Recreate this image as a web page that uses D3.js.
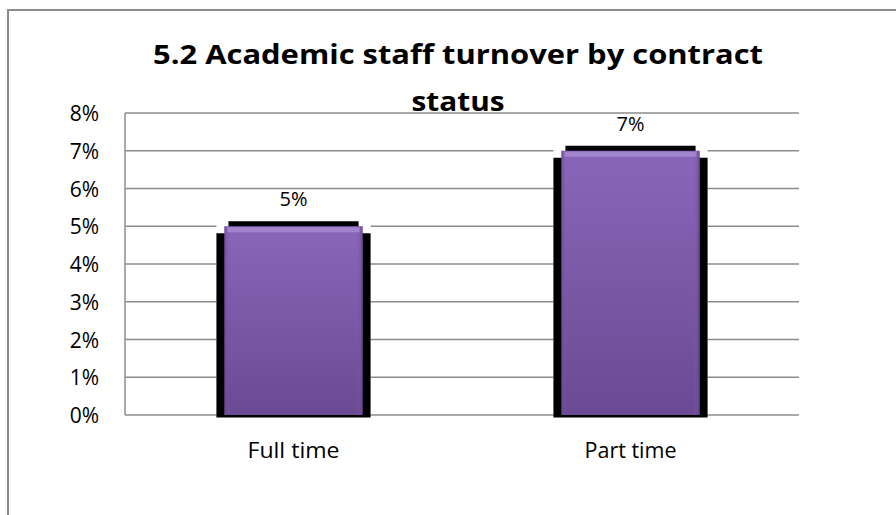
<!DOCTYPE html>
<html>
<head>
<meta charset="utf-8">
<script src="https://cdn.jsdelivr.net/npm/d3@7"></script>
<style>
  html, body { margin: 0; padding: 0; background: #fff; }
  svg { display: block; }
  text { font-family: "Open Sans", sans-serif; fill: #000; }
</style>
</head>
<body>
<svg id="chart" width="896" height="515"></svg>
<script>
// Chart data
const categories = ["Full time", "Part time"];
const values = [0.05, 0.07];
const valueLabels = ["5%", "7%"];
const yTicks = [0, 0.01, 0.02, 0.03, 0.04, 0.05, 0.06, 0.07, 0.08];
const titleLines = ["5.2 Academic staff turnover by contract", "status"];

const svg = d3.select("#chart");
const plot = { left: 125, right: 799, top: 113, bottom: 415 };
const gridColor = "#8c8c8c";

// Outer chart frame (runs past the right and bottom edges)
svg.append("rect")
  .attr("x", 8).attr("y", 10)
  .attr("width", 920).attr("height", 540)
  .attr("fill", "#fff")
  .attr("stroke", gridColor).attr("stroke-width", 2);

const x = d3.scaleBand().domain(categories).range([plot.left, plot.right]).padding(0);
const y = d3.scaleLinear().domain([0, 0.08]).range([plot.bottom, plot.top]);

// Gridlines
svg.append("g").selectAll("line").data(yTicks).join("line")
  .attr("x1", plot.left).attr("x2", plot.right)
  .attr("y1", d => y(d)).attr("y2", d => y(d))
  .attr("stroke", gridColor).attr("stroke-width", 1.5);

// Left plot edge
svg.append("line")
  .attr("x1", plot.left).attr("x2", plot.left)
  .attr("y1", plot.top).attr("y2", plot.bottom)
  .attr("stroke", gridColor).attr("stroke-width", 1.5);

// Y axis labels
const yAxis = d3.axisLeft(y).tickValues(yTicks).tickFormat(d3.format(".0%")).tickSize(0).tickPadding(0);
const yg = svg.append("g").attr("transform", `translate(99,0)`).call(yAxis);
yg.select(".domain").remove();
yg.selectAll("text")
  .attr("font-family", "Open Sans, sans-serif")
  .attr("font-size", 21)
  .attr("fill", "#000")
  .attr("dy", "0.36em");

// Bar gradients
const defs = svg.append("defs");
const grad = defs.append("linearGradient").attr("id", "barFill")
  .attr("x1", 0).attr("y1", 0).attr("x2", 0).attr("y2", 1);
grad.append("stop").attr("offset", "0%").attr("stop-color", "#8a66ba");
grad.append("stop").attr("offset", "100%").attr("stop-color", "#6a4a93");

const side = defs.append("linearGradient").attr("id", "barSide")
  .attr("x1", 0).attr("y1", 0).attr("x2", 1).attr("y2", 0);
side.append("stop").attr("offset", "0%").attr("stop-color", "#5e3f86").attr("stop-opacity", 0.6);
side.append("stop").attr("offset", "4%").attr("stop-color", "#8a66ba").attr("stop-opacity", 0);
side.append("stop").attr("offset", "95%").attr("stop-color", "#8a66ba").attr("stop-opacity", 0);
side.append("stop").attr("offset", "100%").attr("stop-color", "#5e3f86").attr("stop-opacity", 0.7);

const barW = x.bandwidth() * 0.41;
const bars = svg.append("g").selectAll("g")
  .data(categories.map((c, i) => ({ c, v: values[i], label: valueLabels[i] })))
  .join("g");

const cx = d => x(d.c) + x.bandwidth() / 2;

// clear area around each bar
bars.append("rect")
  .attr("x", d => cx(d) - barW / 2 - 8)
  .attr("y", d => y(d.v) - 5)
  .attr("width", barW + 16)
  .attr("height", d => plot.bottom - y(d.v) + 5)
  .attr("fill", "#fff");

// dark shadow behind the bar
bars.append("rect")
  .attr("x", d => cx(d) - barW / 2 - 8)
  .attr("y", d => y(d.v) + 7)
  .attr("width", barW + 16)
  .attr("height", d => plot.bottom - y(d.v) - 7 + 2.5)
  .attr("fill", "#000");
bars.append("rect")
  .attr("x", d => cx(d) - barW / 2 + 4)
  .attr("y", d => y(d.v) - 5)
  .attr("width", barW - 8)
  .attr("height", 6)
  .attr("fill", "#000");

// bar body
bars.append("rect")
  .attr("x", d => cx(d) - barW / 2)
  .attr("y", d => y(d.v))
  .attr("width", barW)
  .attr("height", d => plot.bottom - y(d.v))
  .attr("fill", "url(#barFill)");
bars.append("rect")
  .attr("x", d => cx(d) - barW / 2)
  .attr("y", d => y(d.v))
  .attr("width", barW)
  .attr("height", d => plot.bottom - y(d.v))
  .attr("fill", "url(#barSide)");
// top bevel highlight
bars.append("rect")
  .attr("x", d => cx(d) - barW / 2 + 3)
  .attr("y", d => y(d.v) + 1)
  .attr("width", barW - 6)
  .attr("height", 5)
  .attr("fill", "#b39ade")
  .attr("opacity", 0.6);

// Value labels
bars.append("text")
  .attr("x", cx)
  .attr("y", d => y(d.v) - 20)
  .attr("text-anchor", "middle")
  .attr("font-size", 20)
  .text(d => d.label);

// Category labels
svg.append("g").selectAll("text").data(categories).join("text")
  .attr("x", d => x(d) + x.bandwidth() / 2)
  .attr("y", 458)
  .attr("text-anchor", "middle")
  .attr("font-size", 22)
  .attr("textLength", 92)
  .attr("lengthAdjust", "spacingAndGlyphs")
  .text(d => d);

// Title, two lines, widened to the chart's title span
const titleWidths = [610, 93];
svg.append("g").selectAll("text").data(titleLines).join("text")
  .attr("x", 458)
  .attr("y", (d, i) => i === 0 ? 64 : 111)
  .attr("text-anchor", "middle")
  .attr("font-size", 26)
  .attr("font-weight", "bold")
  .attr("textLength", (d, i) => titleWidths[i])
  .attr("lengthAdjust", "spacingAndGlyphs")
  .text(d => d);
</script>
</body>
</html>
